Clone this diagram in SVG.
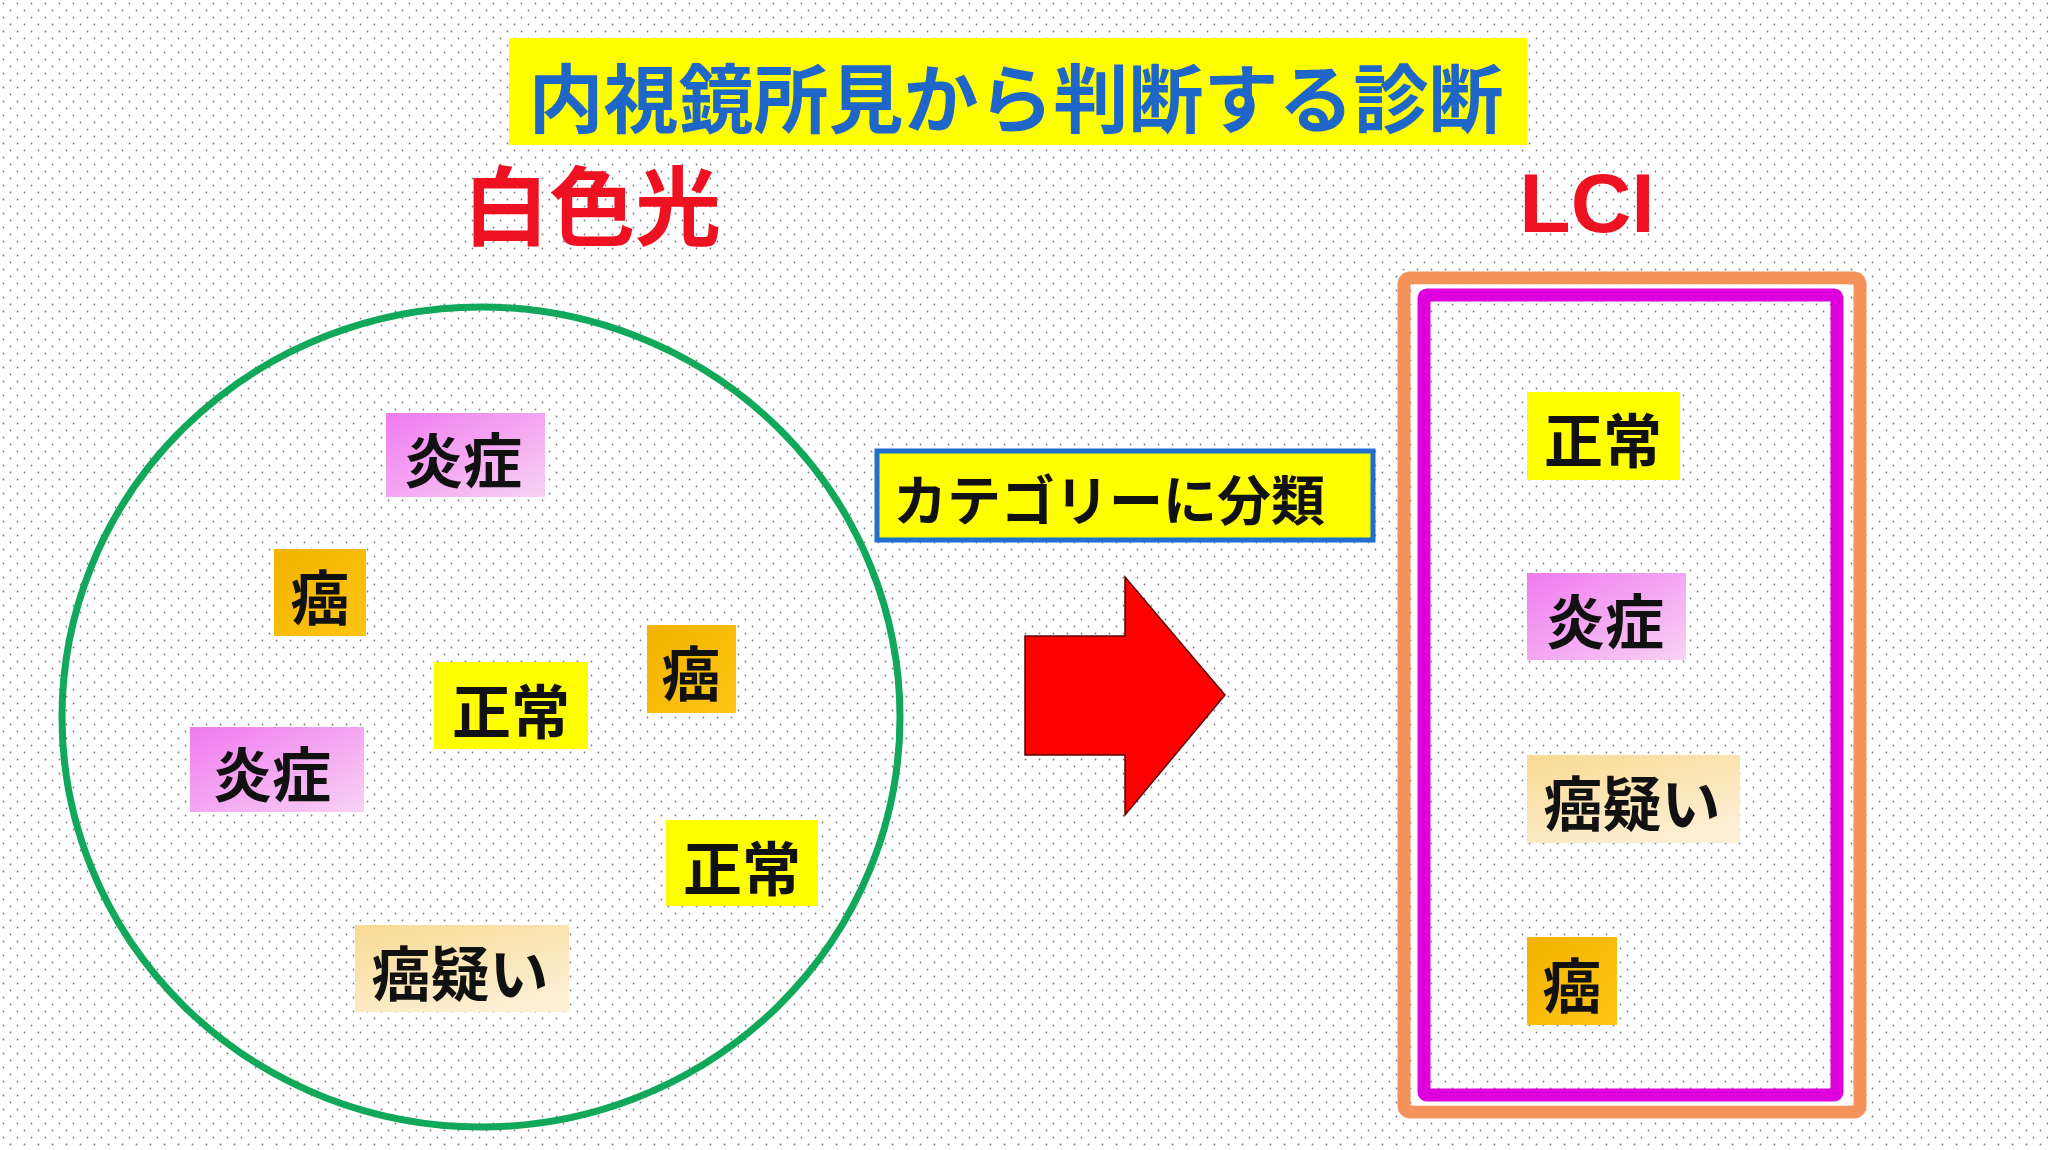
<svg xmlns="http://www.w3.org/2000/svg" width="2048" height="1150" viewBox="0 0 2048 1150">
  <defs>
    <pattern id="dots" x="0" y="0" width="14" height="14" patternUnits="userSpaceOnUse">
      <circle cx="3.5" cy="3.5" r="0.9" fill="#7a7a7a"/>
      <circle cx="10.5" cy="10.5" r="0.9" fill="#7a7a7a"/>
    </pattern>
    <linearGradient id="gPink" x1="0" y1="0" x2="1" y2="1">
      <stop offset="0" stop-color="#F07AF0"/>
      <stop offset="1" stop-color="#F8D2F4"/>
    </linearGradient>
    <linearGradient id="gCancer" x1="0" y1="0" x2="1" y2="1">
      <stop offset="0" stop-color="#F2B300"/>
      <stop offset="1" stop-color="#FFC414"/>
    </linearGradient>
    <linearGradient id="gSusp" x1="0" y1="0" x2="0.6" y2="1">
      <stop offset="0" stop-color="#F9DA92"/>
      <stop offset="1" stop-color="#FDEFD4"/>
    </linearGradient>
    <style>
      .jp { font-family: "Noto Sans CJK JP", "Noto Sans CJK SC", sans-serif; font-weight: 700; }
      .lbl { font-size: 59px; fill: #111; text-anchor: middle; dominant-baseline: central; }
      .normal { fill: #FFFF00; }
      .inflam { fill: url(#gPink); }
      .cancer { fill: url(#gCancer); }
      .susp { fill: url(#gSusp); }
    </style>
  </defs>

  <rect x="0" y="0" width="2048" height="1150" fill="#ffffff"/>
  <rect x="0" y="0" width="2048" height="1150" fill="url(#dots)"/>

  <g id="title">
    <rect x="509" y="38" width="1018" height="107" fill="#FFFF00"/>
    <text class="jp" x="1016" y="94" font-size="75" fill="#1E66C8" text-anchor="middle" dominant-baseline="central">内視鏡所見から判断する診断</text>
  </g>

  <g id="label-white">
    <text class="jp" x="592" y="201" font-size="86" fill="#EE1122" text-anchor="middle" dominant-baseline="central">白色光</text>
  </g>
  <g id="label-lci">
    <text x="1587" y="232" font-family="Liberation Sans, Arial, sans-serif" font-weight="700" font-size="84" fill="#EE1122" text-anchor="middle">LCI</text>
  </g>

  <g id="white-light-circle">
    <ellipse cx="481" cy="717" rx="419" ry="410" fill="none" stroke="#12A85C" stroke-width="7"/>
  </g>

  <g id="wl-inflam-1">
    <rect class="inflam" x="386" y="413" width="159" height="84"/>
    <text class="jp lbl" x="463" y="457">炎症</text>
  </g>
  <g id="wl-cancer-1">
    <rect class="cancer" x="274" y="549" width="92" height="87"/>
    <text class="jp lbl" x="320" y="594">癌</text>
  </g>
  <g id="wl-cancer-2">
    <rect class="cancer" x="647" y="625" width="89" height="88"/>
    <text class="jp lbl" x="691" y="670">癌</text>
  </g>
  <g id="wl-normal-1">
    <rect class="normal" x="434" y="662" width="154" height="87"/>
    <text class="jp lbl" x="511" y="708">正常</text>
  </g>
  <g id="wl-inflam-2">
    <rect class="inflam" x="190" y="727" width="174" height="85"/>
    <text class="jp lbl" x="272" y="771">炎症</text>
  </g>
  <g id="wl-normal-2">
    <rect class="normal" x="666" y="820" width="152" height="86"/>
    <text class="jp lbl" x="742" y="865">正常</text>
  </g>
  <g id="wl-susp">
    <rect class="susp" x="355" y="925" width="214" height="87"/>
    <text class="jp lbl" x="460" y="970">癌疑い</text>
  </g>

  <g id="category-label">
    <rect x="877" y="451" width="496" height="89" fill="#FFFF00" stroke="#1E6FD0" stroke-width="5"/>
    <text class="jp" x="893" y="497" font-size="54" fill="#111" dominant-baseline="central">カテゴリーに分類</text>
  </g>

  <g id="connectors">
    <path d="M1025,636 L1125,636 L1125,577 L1225,695 L1125,815 L1125,755 L1025,755 Z" fill="#FF0000" stroke="#5a0000" stroke-width="1.5"/>
  </g>

  <g id="lci-frame">
    <rect x="1404" y="278" width="456" height="834" fill="none" stroke="#F4925A" stroke-width="13" rx="6"/>
    <rect x="1417" y="288" width="427" height="814" fill="none" stroke="#ffffff" stroke-width="7"/>
    <rect x="1424" y="295" width="413" height="800" fill="none" stroke="#DD00DD" stroke-width="13" rx="3"/>
  </g>

  <g id="lci-normal">
    <rect class="normal" x="1527" y="392" width="153" height="88"/>
    <text class="jp lbl" x="1603" y="437">正常</text>
  </g>
  <g id="lci-inflam">
    <rect class="inflam" x="1527" y="573" width="159" height="87"/>
    <text class="jp lbl" x="1605" y="618">炎症</text>
  </g>
  <g id="lci-susp">
    <rect class="susp" x="1527" y="755" width="213" height="88"/>
    <text class="jp lbl" x="1632" y="800">癌疑い</text>
  </g>
  <g id="lci-cancer">
    <rect class="cancer" x="1527" y="937" width="90" height="88"/>
    <text class="jp lbl" x="1572" y="982">癌</text>
  </g>
</svg>
